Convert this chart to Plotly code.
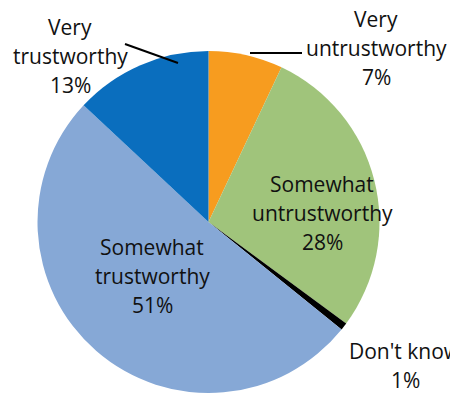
import plotly.graph_objects as go

# Data
categories = ["Very untrustworthy", "Somewhat untrustworthy", "Don't know",
              "Somewhat trustworthy", "Very trustworthy"]
values = [7, 28, 0.7, 51, 13]
pct_labels = ["7%", "28%", "1%", "51%", "13%"]
label_lines = [["Very", "untrustworthy"], ["Somewhat", "untrustworthy"],
               ["Don't know"], ["Somewhat", "trustworthy"], ["Very", "trustworthy"]]
colors = ["#F79C1F", "#A0C47B", "#000000", "#86A8D6", "#0A6EBE"]

W, H = 450, 396

fig = go.Figure(go.Pie(
    labels=categories, values=values, sort=False, direction="clockwise",
    rotation=0, textinfo="none", hoverinfo="label+percent",
    marker=dict(colors=colors, line=dict(width=0)),
    domain=dict(x=[36 / W, 381 / W], y=[1 - 393 / H, 1 - 51 / H]),
    showlegend=False,
))

# label centres (px) for each category
label_pos = [(376, 48), (322, 213), (405, 365), (152, 276), (70, 56)]
LINE = 29
font = dict(family="Open Sans", size=21, color="#111111")
annotations = []
for lines, pct, (px, py) in zip(label_lines, pct_labels, label_pos):
    all_lines = lines + [pct]
    n = len(all_lines)
    for i, ln in enumerate(all_lines):
        ly = py + (i - (n - 1) / 2) * LINE
        annotations.append(dict(x=px / W, y=1 - ly / H, xref="paper", yref="paper",
                                text=ln, showarrow=False, font=font,
                                xanchor="center", yanchor="middle", align="center"))

shapes = [
    dict(type="line", xref="paper", yref="paper", x0=250 / W, y0=1 - 53 / H,
         x1=302 / W, y1=1 - 53 / H, line=dict(color="black", width=2)),
    dict(type="line", xref="paper", yref="paper", x0=125 / W, y0=1 - 44 / H,
         x1=178 / W, y1=1 - 63 / H, line=dict(color="black", width=2)),
]

fig.update_layout(width=W, height=H, margin=dict(l=0, r=0, t=0, b=0),
                  paper_bgcolor="white", plot_bgcolor="white",
                  annotations=annotations, shapes=shapes)
fig.write_html("out.html")
